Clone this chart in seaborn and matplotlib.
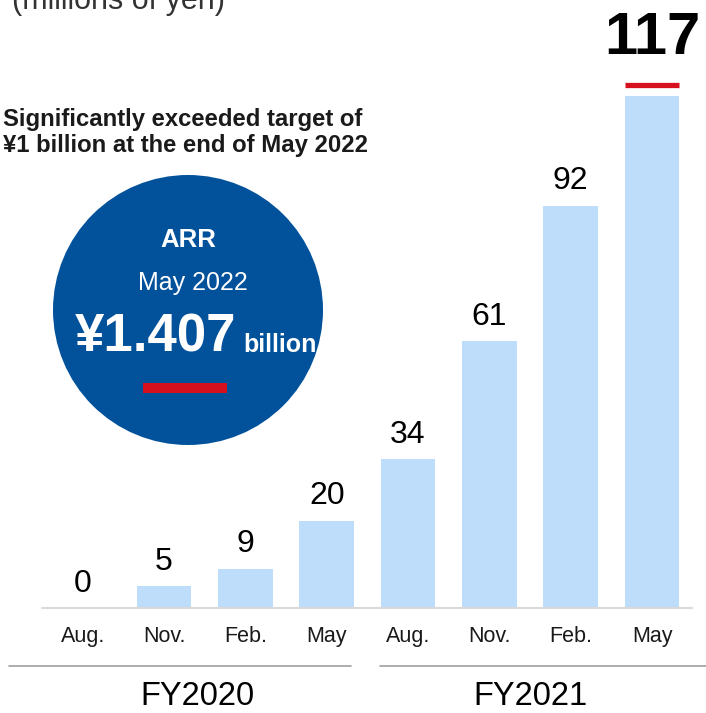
import numpy as np
import pandas as pd
import matplotlib
matplotlib.use('Agg')
import matplotlib.pyplot as plt
from matplotlib.patches import Ellipse, Rectangle
import seaborn as sns

# Data
months = ['Aug.', 'Nov.', 'Feb.', 'May', 'Aug.', 'Nov.', 'Feb.', 'May']
fiscal_years = ['FY2020', 'FY2021']
year_of_month = ['FY2020'] * 4 + ['FY2021'] * 4
arr_values = [0, 5, 9, 20, 34, 61, 92, 117]

BAR_COLOR = '#BDDDFB'
CIRCLE_COLOR = '#02519B'
RED = '#D7101E'

W, H = 706, 713

df = pd.DataFrame({
    'period': [f'{y} {m}' for y, m in zip(year_of_month, months)],
    'month': months,
    'arr': arr_values,
})

sns.set_theme(style='white')
plt.rcParams['font.family'] = ['Liberation Sans', 'DejaVu Sans']

fig = plt.figure(figsize=(W / 100, H / 100), dpi=100)
ax = fig.add_axes([0, 0, 1, 1])

sns.barplot(data=df, x='period', y='arr', order=df['period'], color=BAR_COLOR,
            saturation=1, width=0.675, errorbar=None, linewidth=0, ax=ax)

# pixel layout of the picture: bar centre 0 at x=82.7, step 81.33; baseline y=608, 4.372 px per unit
STEP, X0, BASE, SCALE = 81.33, 82.7, 608, 4.372
ax.set_xlim(-X0 / STEP, (W - X0) / STEP)
ax.set_ylim(-(H - BASE) / SCALE, BASE / SCALE)
ax.axis('off')


def ydata(py):
    return (BASE - py) / SCALE


def ftext(px, py, s, **kw):
    fig.text(px / W, 1 - py / H, s, **kw)


# baseline
ax.axhline(0, xmin=42 / W, xmax=692 / W, color='#D9D9D9', lw=1.5)

# value labels
for i, v in enumerate(arr_values):
    if i == len(arr_values) - 1:
        ax.text(i, ydata(54), str(v), ha='center', va='baseline',
                fontsize=43, fontweight='bold', color='black')
    else:
        ax.text(i, v + 16.5 / SCALE, str(v), ha='center', va='baseline',
                fontsize=23, color='black')

# red marker over the last bar
last = ax.patches[len(arr_values) - 1]
ax.plot([last.get_x(), last.get_x() + last.get_width()], [ydata(84.5)] * 2,
        color=RED, lw=3.8, solid_capstyle='butt')

# month labels
for i, m in enumerate(months):
    ax.text(i, ydata(642), m, ha='center', va='baseline', fontsize=15.5, color='#1a1a1a')

# fiscal year separators and labels
ax.plot([(9 - X0) / STEP, (351 - X0) / STEP], [ydata(666)] * 2, color='#A6A6A6', lw=1.3)
ax.plot([(380 - X0) / STEP, (706 - X0) / STEP], [ydata(666)] * 2, color='#A6A6A6', lw=1.3)
ftext(197, 705, fiscal_years[0], ha='center', va='baseline', fontsize=23.5, color='black')
ftext(530, 705, fiscal_years[1], ha='center', va='baseline', fontsize=23.5, color='black')

# unit note, cut off at the top
ftext(12, 9, '(millions of yen)', ha='left', va='baseline', fontsize=22, color='#333333')

# headline
ftext(3, 126, 'Significantly exceeded target of', ha='left', va='baseline',
      fontsize=17.2, fontweight='bold', color='#1a1a1a')
ftext(3, 152, '¥1 billion at the end of May 2022', ha='left', va='baseline',
      fontsize=17.2, fontweight='bold', color='#1a1a1a')

# ARR circle
fig.patches.append(Ellipse((188 / W, 1 - 310 / H), 270 / W, 270 / H,
                           transform=fig.transFigure, facecolor=CIRCLE_COLOR,
                           edgecolor='none', zorder=1))
fig.patches.append(Rectangle((143 / W, 1 - 393 / H), 84 / W, 10 / H,
                             transform=fig.transFigure, facecolor=RED,
                             edgecolor='none', zorder=2))
ftext(188, 247, 'ARR', ha='center', va='baseline', fontsize=18.5,
      fontweight='bold', color='white', zorder=3)
ftext(193, 290, 'May 2022', ha='center', va='baseline', fontsize=18,
      color='white', zorder=3)
ftext(75, 352, '¥1.407', ha='left', va='baseline', fontsize=38,
      fontweight='bold', color='white', zorder=3)
ftext(243, 352, 'billion', ha='left', va='baseline', fontsize=18,
      fontweight='bold', color='white', zorder=3)

fig.savefig('out.png', dpi=100)
